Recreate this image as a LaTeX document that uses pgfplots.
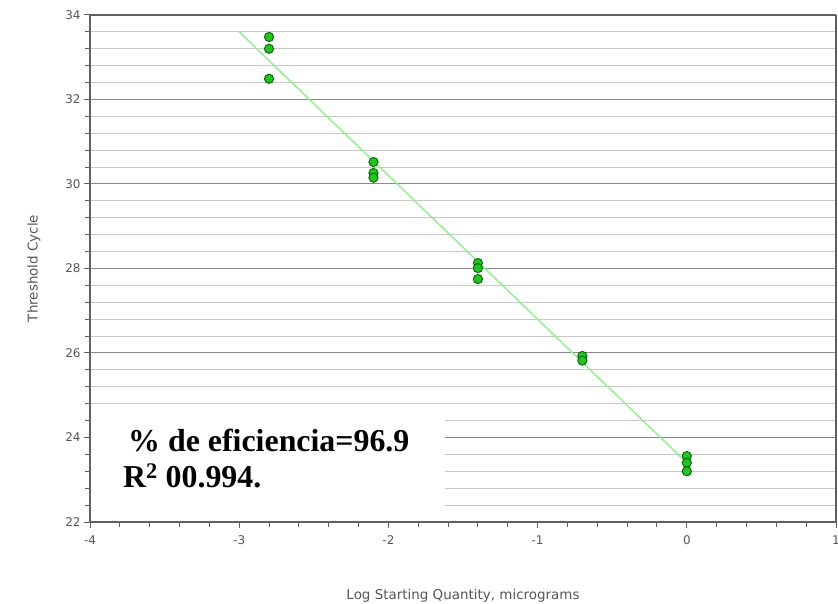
\documentclass[border=0pt]{standalone}
\usepackage{pgfplots}
\pgfplotsset{compat=1.18}
\usepackage{fontspec}
\setmainfont{DejaVu Sans}
\newfontfamily\tnr{Liberation Serif}
\definecolor{axgray}{HTML}{606060}
\definecolor{majgrid}{HTML}{8A8A8A}
\definecolor{mingrid}{HTML}{C8C8C8}
\definecolor{ptfill}{HTML}{22C322}
\definecolor{ptedge}{HTML}{0A6A0A}
\definecolor{fitline}{HTML}{8EEE8E}
\definecolor{lbl}{HTML}{555555}
\begin{document}
\begin{tikzpicture}[x=1bp,y=1bp]
\useasboundingbox (-90,-82) rectangle (748,522);
\begin{axis}[
  at={(0,0)}, anchor=south west,
  scale only axis, width=746bp, height=507bp,
  xmin=-4, xmax=1, ymin=22, ymax=34,
  xtick={-4,-3,-2,-1,0,1},
  ytick={22,24,26,28,30,32,34},
  minor x tick num=4,
  minor ytick={22.4,22.8,23.2,23.6,24.4,24.8,25.2,25.6,26.4,26.8,27.2,27.6,28.4,28.8,29.2,29.6,30.4,30.8,31.2,31.6,32.4,32.8,33.2,33.6},
  xtick pos=bottom, ytick pos=left,
  tick align=outside,
  major tick length=6bp, minor tick length=5bp,
  every tick/.style={axgray, line width=1pt},
  ymajorgrids, yminorgrids,
  major grid style={majgrid, line width=1pt},
  minor grid style={mingrid, line width=0.9pt},
  axis line style={axgray},
  axis x line*=box, axis y line*=box,
  separate axis lines,
  every outer x axis line/.append style={line width=1.5pt},
  every outer y axis line/.append style={line width=1.5pt},
  tick label style={font=\fontsize{12}{14}\selectfont, text=lbl},
  xticklabel style={yshift=-4bp},
  /pgf/number format/assume math mode=true,
  xlabel={Log Starting Quantity, micrograms},
  ylabel={Threshold Cycle},
  label style={font=\fontsize{13.5}{15}\selectfont, text=lbl},
  xlabel style={yshift=-38bp},
  ylabel style={yshift=18bp},
  clip=false,
]
\fill[white] (axis cs:-3.99,22.05) rectangle (axis cs:-1.62,24.62);
\addplot[fitline, line width=1.4pt, no marks] coordinates {(-3,33.6) (0,23.4)};
\addplot[only marks, mark=*, mark size=4.6pt, mark options={fill=ptfill, draw=ptedge, line width=1pt}] coordinates {
 (-2.8,33.48) (-2.8,33.2) (-2.8,32.49)
 (-2.1,30.52) (-2.1,30.26) (-2.1,30.15)
 (-1.4,28.13) (-1.4,28.01) (-1.4,27.75)
 (-0.7,25.93) (-0.7,25.82)
 (0,23.56) (0,23.4) (0,23.2)
};
\node[anchor=base west, font=\tnr\bfseries\fontsize{32}{36}\selectfont, inner sep=0pt] at (axis cs:-3.745,23.68) {\% de eficiencia=96.9};
\node[anchor=base west, font=\tnr\bfseries\fontsize{32}{36}\selectfont, inner sep=0pt] at (axis cs:-3.78,22.81) {R\textsuperscript{2} 00.994.};
\end{axis}
\end{tikzpicture}
\end{document}
